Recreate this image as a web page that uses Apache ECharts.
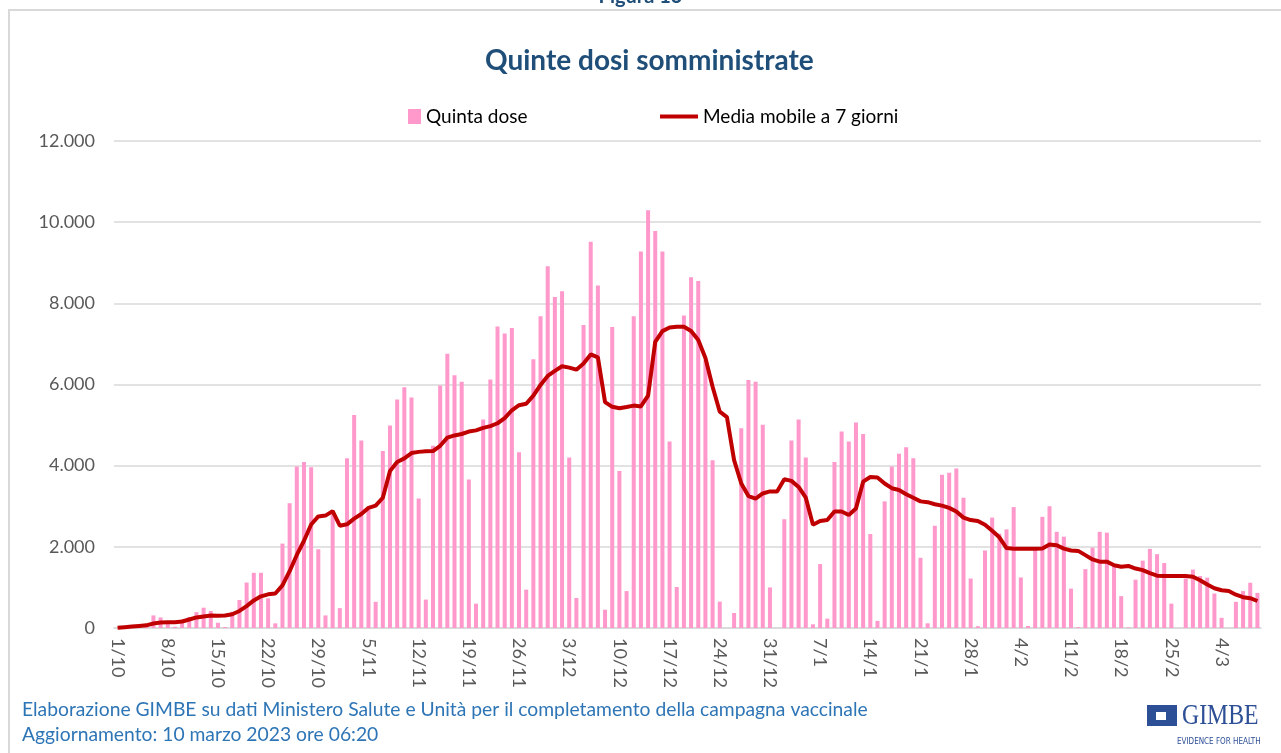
<!DOCTYPE html>
<html lang="it">
  <head>
    <meta charset="UTF-8" />
    <title>Quinte dosi somministrate</title>
    <script src="https://cdn.jsdelivr.net/npm/echarts@6/dist/echarts.min.js"></script>
    <style>
      body {
        margin: 0;
        background: #fff;
      }
      #chart {
        width: 1281px;
        height: 753px;
      }
    </style>
  </head>
  <body>
    <div id="chart"></div>
    <script>
      // giorni dal 1/10/2022 al 9/3/2023
      var startDate = new Date(2022, 9, 1);
      var nDays = 160;
      var days = [];
      for (var i = 0; i < nDays; i++) {
        var d = new Date(startDate.getTime() + i * 86400000);
        days.push(d.getDate() + "/" + (d.getMonth() + 1));
      }

      // quinte dosi giornaliere
      var quintaDose = [
        0, 5, 15, 40, 90, 310, 260, 100, 30, 205,
        270, 390, 500, 420, 130, 25, 400, 690, 1120, 1360,
        1360, 730, 115, 2080, 3075, 3980, 4090, 3960, 1940, 310,
        2880, 490, 4180, 5250, 4620, 2920, 645, 4360, 4990, 5630,
        5930, 5680, 3190, 700, 4490, 5975, 6760, 6230, 6070, 3660,
        600, 5135, 6125, 7430, 7255, 7390, 4330, 945, 6620, 7680,
        8915, 8155, 8300, 4200, 740, 7465, 9515, 8440, 450, 7415,
        3870, 910, 7680, 9280, 10295, 9780, 9280, 4595, 1010, 7700,
        8640, 8550, 6600, 4135, 650, 0, 370, 4920, 6110, 6065,
        5010, 1000, 0, 2680, 4620, 5135, 4200, 90, 1575, 230,
        4090, 4840, 4595, 5065, 4780, 2315, 175, 3120, 3980, 4295,
        4455, 4180, 1730, 115, 2520, 3775, 3825, 3930, 3210, 1220,
        45, 1910, 2720, 2325, 2430, 2980, 1245, 50, 1940, 2740,
        3000, 2370, 2250, 970, 20, 1450, 1980, 2370, 2350, 1550,
        785, 15, 1190, 1660, 1950, 1820, 1600, 600, 0, 1220,
        1440, 1280, 1240, 850, 250, 0, 645, 910, 1115, 865,
      ];

      // media mobile a 7 giorni
      var mediaMobile = [
        5, 20, 35, 50, 65, 110, 135, 140, 140, 160,
        210, 260, 285, 310, 300, 310, 340, 420, 540, 680,
        780, 830, 850, 1050, 1400, 1800, 2150, 2550, 2750, 2770,
        2880, 2520, 2555, 2695, 2810, 2960, 3015, 3210, 3870, 4090,
        4180, 4310, 4340, 4355, 4360, 4490, 4690, 4745, 4780, 4840,
        4870, 4930, 4975, 5045, 5170, 5365, 5490, 5525, 5725, 5990,
        6210, 6335, 6450, 6415, 6365, 6515, 6740, 6670, 5565, 5450,
        5415, 5445, 5480, 5460, 5725, 7050, 7315, 7405, 7425, 7425,
        7320, 7095, 6655, 5945, 5330, 5195, 4135, 3560, 3250, 3190,
        3315, 3365, 3365, 3665, 3625, 3475, 3210, 2545, 2635, 2660,
        2870, 2870, 2785, 2945, 3605, 3720, 3710, 3560, 3445, 3400,
        3295, 3210, 3120, 3100, 3050, 3015, 2960, 2870, 2720, 2660,
        2635, 2545, 2395, 2235, 1970, 1955, 1955, 1955, 1955, 1960,
        2060, 2040, 1955, 1910, 1900, 1795, 1690, 1635, 1635, 1545,
        1510, 1530, 1465, 1425, 1350, 1290, 1280, 1280, 1280, 1280,
        1265, 1175, 1070, 980, 930, 910, 820, 760, 735, 665,
      ];

      var yTicks = [0, 2000, 4000, 6000, 8000, 10000, 12000];

      var font = "Lato, 'Open Sans', sans-serif";
      var grey = "#595959";

      function fmt(v) {
        return String(v).replace(/\B(?=(\d{3})+(?!\d))/g, ".");
      }

      var mCharts = echarts.init(document.getElementById("chart"));
      mCharts.setOption({
        backgroundColor: "#fff",
        animation: false,
        title: {
          text: "Quinte dosi somministrate",
          left: 480,
          top: 42,
          textStyle: {
            fontFamily: font,
            fontWeight: "bold",
            fontSize: 28,
            color: "#1F4E79",
          },
        },
        legend: [
          {
            data: ["Quinta dose"],
            left: 403,
            top: 102,
            icon: "rect",
            itemWidth: 13,
            itemHeight: 15,
            itemGap: 4,
            textStyle: { fontFamily: font, fontSize: 19, color: "#000" },
          },
          {
            data: ["Media mobile a 7 giorni"],
            left: 655,
            top: 102,
            icon: "rect",
            itemWidth: 38,
            itemHeight: 4,
            itemGap: 4,
            textStyle: { fontFamily: font, fontSize: 19, color: "#000" },
          },
        ],
        grid: {
          left: 114,
          right: 20,
          top: 141,
          bottom: 125,
          containLabel: false,
        },
        xAxis: {
          type: "category",
          data: days,
          boundaryGap: true,
          axisLine: { lineStyle: { color: "#D9D9D9", width: 1.5 } },
          axisTick: {
            interval: 6,
            length: 6,
            lineStyle: { color: "#D9D9D9", width: 1.5 },
          },
          axisLabel: {
            interval: 6,
            rotate: -90,
            margin: 10,
            fontFamily: font,
            fontSize: 18,
            color: grey,
          },
        },
        yAxis: {
          type: "value",
          min: yTicks[0],
          max: yTicks[yTicks.length - 1],
          interval: 2000,
          axisLine: { show: false },
          axisTick: { show: false },
          splitLine: { lineStyle: { color: "#D9D9D9", width: 1.5 } },
          axisLabel: {
            margin: 19,
            fontFamily: font,
            fontSize: 18,
            color: grey,
            formatter: fmt,
          },
        },
        series: [
          {
            name: "Quinta dose",
            type: "bar",
            data: quintaDose,
            barCategoryGap: "44%",
            itemStyle: { color: "#FF99CC" },
          },
          {
            name: "Media mobile a 7 giorni",
            type: "line",
            data: mediaMobile,
            symbol: "none",
            lineStyle: { color: "#C00000", width: 4 },
            itemStyle: { color: "#C00000" },
          },
        ],
        graphic: [
          {
            type: "rect",
            shape: { x: 9, y: 10, width: 1400, height: 900 },
            style: { fill: "none", stroke: "#D9D9D9", lineWidth: 2 },
            silent: true,
          },
          {
            type: "text",
            left: "center",
            top: -13,
            style: {
              text: "Figura 13",
              fontFamily: font,
              fontWeight: "bold",
              fontSize: 20,
              fill: "#1F4E79",
            },
          },
          {
            type: "text",
            left: 22,
            top: 700,
            style: {
              text:
                "Elaborazione GIMBE su dati Ministero Salute e Unità per il completamento della campagna vaccinale",
              fontFamily: font,
              fontSize: 19.3,
              fill: "#2E75B6",
            },
          },
          {
            type: "text",
            left: 22,
            top: 725,
            style: {
              text: "Aggiornamento: 10 marzo 2023 ore 06:20",
              fontFamily: font,
              fontSize: 19.3,
              fill: "#2E75B6",
            },
          },
          // logo GIMBE
          {
            type: "group",
            left: 1147,
            top: 702,
            children: [
              {
                type: "rect",
                shape: { x: 0, y: 0, width: 30, height: 21 },
                style: { fill: "#2D4F96" },
              },
              {
                type: "rect",
                shape: { x: 9, y: 7, width: 10, height: 8 },
                style: { fill: "#fff" },
              },
              {
                type: "text",
                x: 35,
                y: -3,
                scaleX: 0.82,
                style: {
                  text: "GIMBE",
                  fontFamily: "'Liberation Serif', serif",
                  fontSize: 29,
                  fill: "#2D4F96",
                },
              },
              {
                type: "text",
                x: 30,
                y: 33,
                style: {
                  text: "EVIDENCE FOR HEALTH",
                  fontFamily: "'DejaVu Sans Condensed', sans-serif",
                  fontSize: 8,
                  fill: "#2D4F96",
                },
              },
            ],
          },
        ],
      });
    </script>
  </body>
</html>
